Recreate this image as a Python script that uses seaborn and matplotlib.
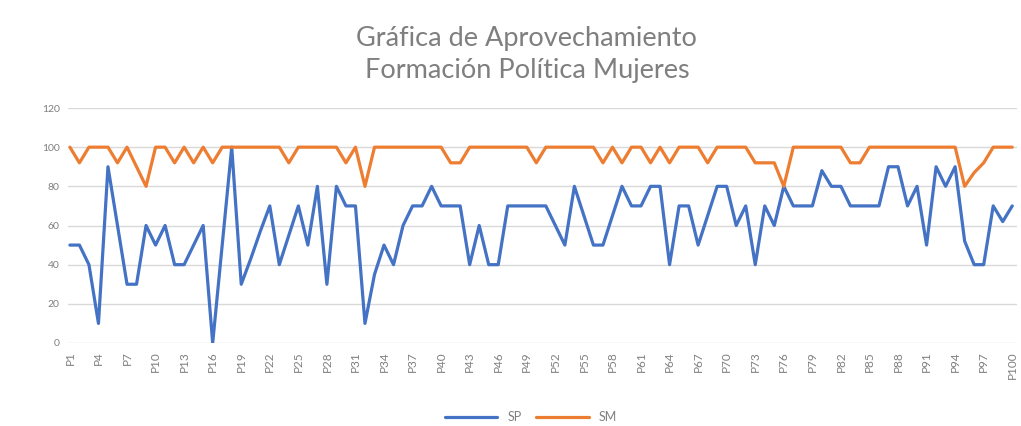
import numpy as np
import pandas as pd
import matplotlib
matplotlib.use("Agg")
import matplotlib.pyplot as plt
import seaborn as sns

# datos (P1..P100)
sesiones = [f"P{i}" for i in range(1, 101)]

sp = [50, 50, 40, 10, 90, 60, 30, 30, 60, 50,
      60, 40, 40, 50, 60, 0, 50, 100, 30, 43,
      57, 70, 40, 55, 70, 50, 80, 30, 80, 70,
      70, 10, 35, 50, 40, 60, 70, 70, 80, 70,
      70, 70, 40, 60, 40, 40, 70, 70, 70, 70,
      70, 60, 50, 80, 65, 50, 50, 65, 80, 70,
      70, 80, 80, 40, 70, 70, 50, 65, 80, 80,
      60, 70, 40, 70, 60, 80, 70, 70, 70, 88,
      80, 80, 70, 70, 70, 70, 90, 90, 70, 80,
      50, 90, 80, 90, 52, 40, 40, 70, 62, 70]

sm = [100, 92, 100, 100, 100, 92, 100, 90, 80, 100,
      100, 92, 100, 92, 100, 92, 100, 100, 100, 100,
      100, 100, 100, 92, 100, 100, 100, 100, 100, 92,
      100, 80, 100, 100, 100, 100, 100, 100, 100, 100,
      92, 92, 100, 100, 100, 100, 100, 100, 100, 92,
      100, 100, 100, 100, 100, 100, 92, 100, 92, 100,
      100, 92, 100, 92, 100, 100, 100, 92, 100, 100,
      100, 100, 92, 92, 92, 80, 100, 100, 100, 100,
      100, 100, 92, 92, 100, 100, 100, 100, 100, 100,
      100, 100, 100, 100, 80, 87, 92, 100, 100, 100]

series = ["SP", "SM"]
colores = ["#4472C4", "#ED7D31"]
y_ticks = [0, 20, 40, 60, 80, 100, 120]

df = pd.DataFrame({
    "idx": list(range(len(sesiones))) * 2,
    "valor": sp + sm,
    "serie": [series[0]] * len(sp) + [series[1]] * len(sm),
})

sns.set_theme(style="white")
plt.rcParams["font.family"] = ["Lato", "DejaVu Sans"]

fig = plt.figure(figsize=(10.21, 4.26), dpi=100)
ax = fig.add_axes([68 / 1021, 1 - 343 / 426, (1017 - 68) / 1021, (343 - 108) / 426])

sns.lineplot(data=df, x="idx", y="valor", hue="serie", palette=colores,
             linewidth=2.3, sort=False, ax=ax)

ax.set_ylim(0, 120)
ax.set_xlim(-0.2, 99.5)
ax.set_yticks(y_ticks)
ax.set_yticklabels([str(v) for v in y_ticks], fontsize=7.5, color="#7f7f7f")
ax.yaxis.grid(True, color="#d9d9d9", linewidth=1)
ax.set_axisbelow(True)

pos = list(range(0, len(sesiones), 3))
ax.set_xticks(pos)
ax.set_xticklabels([sesiones[i] for i in pos], rotation=90, fontsize=8.5, color="#7f7f7f")
ax.tick_params(axis="both", length=0, pad=6)
ax.set_xlabel("")
ax.set_ylabel("")
for s in ax.spines.values():
    s.set_visible(False)

fig.text(0.516, 0.91, "Gráfica de Aprovechamiento", ha="center", va="center",
         fontsize=19.5, color="#7f7f7f")
fig.text(0.516, 0.835, "Formación Política Mujeres", ha="center", va="center",
         fontsize=19.5, color="#7f7f7f")

ax.legend_.remove()
handles, labels = ax.get_legend_handles_labels()
fig.legend(handles, labels, loc="center", bbox_to_anchor=(0.52, 0.02), ncol=2,
           frameon=False, fontsize=9, handlelength=4.2, columnspacing=1.2,
           labelcolor="#7f7f7f")

fig.savefig("out.png", dpi=100, facecolor="white")
